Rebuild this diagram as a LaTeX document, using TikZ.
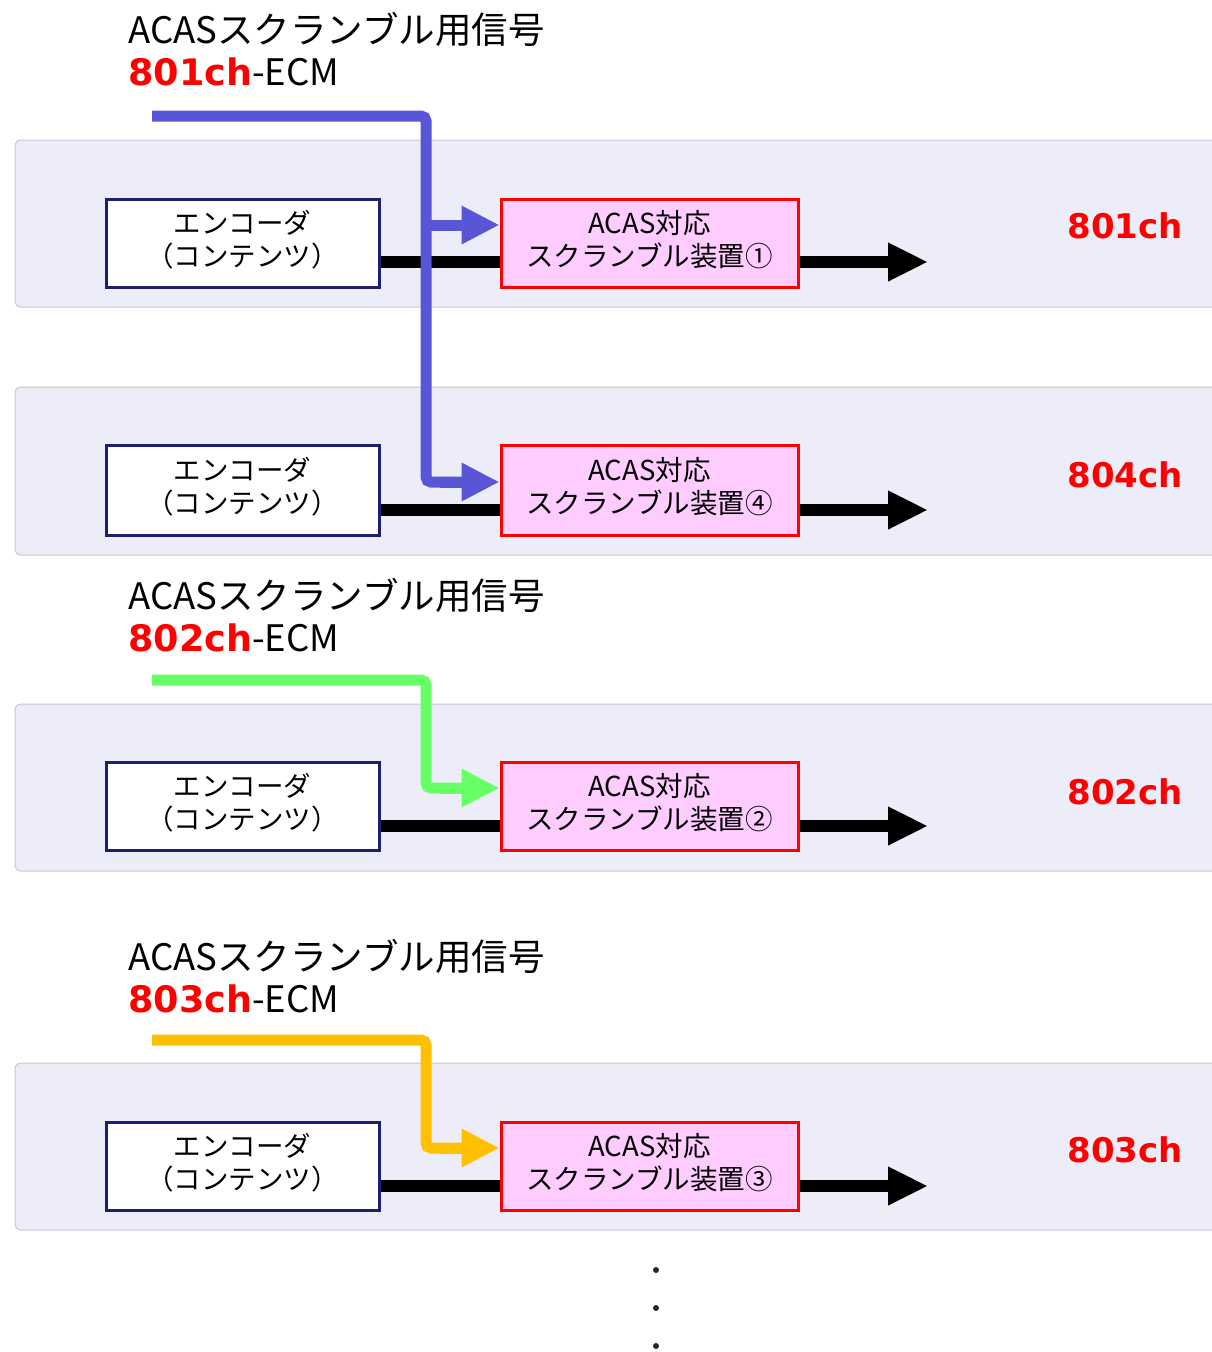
\documentclass[tikz,border=0pt]{standalone}
\usepackage{fontspec}
\setmainfont{Noto Sans CJK JP}
\newfontfamily\vb{DejaVu Sans}
\usetikzlibrary{arrows.meta}
\definecolor{bandfill}{HTML}{EDEDF9}
\definecolor{bandline}{HTML}{C8C8D0}
\definecolor{navy}{HTML}{1F1F70}
\definecolor{pinkfill}{HTML}{FFCCFF}
\definecolor{ecmblue}{HTML}{5856D6}
\definecolor{ecmgreen}{HTML}{66FF66}
\definecolor{ecmyellow}{HTML}{FFC000}
\definecolor{chred}{HTML}{FF0000}
\newcommand\twolines[2]{\raisebox{4pt}{\begin{tabular}{@{}c@{}}#1\\#2\end{tabular}}}
\tikzset{
  band/.style={fill=bandfill, draw=bandline, line width=1pt, rounded corners=6pt},
  encbox/.style={draw=navy, fill=white, line width=3pt, minimum width=273pt, minimum height=88pt, font=\fontsize{27.5}{32}\selectfont, inner sep=0pt},
  scrbox/.style={draw=chred, fill=pinkfill, line width=3pt, minimum width=297pt, minimum height=88pt, font=\fontsize{27.5}{32}\selectfont, inner sep=0pt},
  sigline/.style={line width=12pt, black},
  outarrow/.style={line width=12pt, black, -{Triangle[length=40pt,width=36pt]}},
  ecm/.style={line width=11pt, rounded corners=5pt},
  ecmarrow/.style={line width=11pt, -{Triangle[length=38pt,width=36pt]}},
  chlabel/.style={text=chred, font=\vb\bfseries\fontsize{34}{38}\selectfont, inner sep=0pt},
  title/.style={anchor=base west, inner sep=0pt, font=\fontsize{36.5}{40}\selectfont},
  dot/.style={circle, fill=black!85, inner sep=0pt, minimum size=6pt}
}
\begin{document}
\begin{tikzpicture}[x=1pt,y=-1pt]
\useasboundingbox (0,0) rectangle (1211,1352);
% bands
\draw[band] (15,140) rectangle (1240,307);
\draw[band] (15,387) rectangle (1240,555);
\draw[band] (15,704) rectangle (1240,871);
\draw[band] (15,1063) rectangle (1240,1230);

% titles
\node[title] (t1a) at (128,43) {ACASスクランブル用信号};
\node[title] (t1b) at (128,85) {{\vb\bfseries\color{chred}801ch}-ECM};
\node[title] (t2a) at (128,609) {ACASスクランブル用信号};
\node[title] (t2b) at (128,651) {{\vb\bfseries\color{chred}802ch}-ECM};
\node[title] (t3a) at (128,970) {ACASスクランブル用信号};
\node[title] (t3b) at (128,1012) {{\vb\bfseries\color{chred}803ch}-ECM};

% boxes
\node[encbox] (enc1) at (242.5,243) {\twolines{エンコーダ}{（コンテンツ）}};
\node[scrbox] (scr1) at (649.5,243) {\twolines{ACAS対応}{スクランブル装置①}};
\node[encbox, minimum height=90pt] (enc4) at (242.5,490) {\twolines{エンコーダ}{（コンテンツ）}};
\node[scrbox, minimum height=90pt] (scr4) at (649.5,490) {\twolines{ACAS対応}{スクランブル装置④}};
\node[encbox] (enc2) at (242.5,806.5) {\twolines{エンコーダ}{（コンテンツ）}};
\node[scrbox] (scr2) at (649.5,806.5) {\twolines{ACAS対応}{スクランブル装置②}};
\node[encbox] (enc3) at (242.5,1166.5) {\twolines{エンコーダ}{（コンテンツ）}};
\node[scrbox] (scr3) at (649.5,1166.5) {\twolines{ACAS対応}{スクランブル装置③}};

% channel labels
\node[chlabel] (ch1) at (1125,226) {801ch};
\node[chlabel] (ch4) at (1125,475) {804ch};
\node[chlabel] (ch2) at (1125,792) {802ch};
\node[chlabel] (ch3) at (1125,1150) {803ch};

% output coordinates
\coordinate (o1) at (928,262);
\coordinate (o4) at (928,510);
\coordinate (o2) at (928,826);
\coordinate (o3) at (928,1186);

% signal lines
\draw[sigline] ([yshift=-19pt]enc1.east) -- ([yshift=-19pt]scr1.west);
\draw[sigline] ([yshift=-20pt]enc4.east) -- ([yshift=-20pt]scr4.west);
\draw[sigline] ([yshift=-19.5pt]enc2.east) -- ([yshift=-19.5pt]scr2.west);
\draw[sigline] ([yshift=-19.5pt]enc3.east) -- ([yshift=-19.5pt]scr3.west);
\draw[outarrow] ([yshift=-19pt]scr1.east) -- (o1);
\draw[outarrow] ([yshift=-20pt]scr4.east) -- (o4);
\draw[outarrow] ([yshift=-19.5pt]scr2.east) -- (o2);
\draw[outarrow] ([yshift=-19.5pt]scr3.east) -- (o3);

% ECM sources
\coordinate (e1) at (152,116);
\coordinate (e2) at (152,680);
\coordinate (e3) at (152,1040);
\coordinate (b1) at (426,225);

% blue ECM
\draw[ecm, ecmblue] (e1) -- (426,116) -- (426,482) -- (462,482);
\draw[ecmarrow, ecmblue] (b1) -- ([yshift=18pt]scr1.west);
\draw[ecmarrow, ecmblue] (440,482) -- ([yshift=8pt]scr4.west);
% green ECM
\draw[ecm, ecmgreen] (e2) -- (426,680) -- (426,788) -- (462,788);
\draw[ecmarrow, ecmgreen] (440,788) -- ([yshift=18.5pt]scr2.west);
% yellow ECM
\draw[ecm, ecmyellow] (e3) -- (426,1040) -- (426,1148) -- (462,1148);
\draw[ecmarrow, ecmyellow] (440,1148) -- ([yshift=18.5pt]scr3.west);

% dots
\node[dot] (d1) at (656,1270) {};
\node[dot] (d2) at (656,1308) {};
\node[dot] (d3) at (656,1346) {};
\end{tikzpicture}
\end{document}
